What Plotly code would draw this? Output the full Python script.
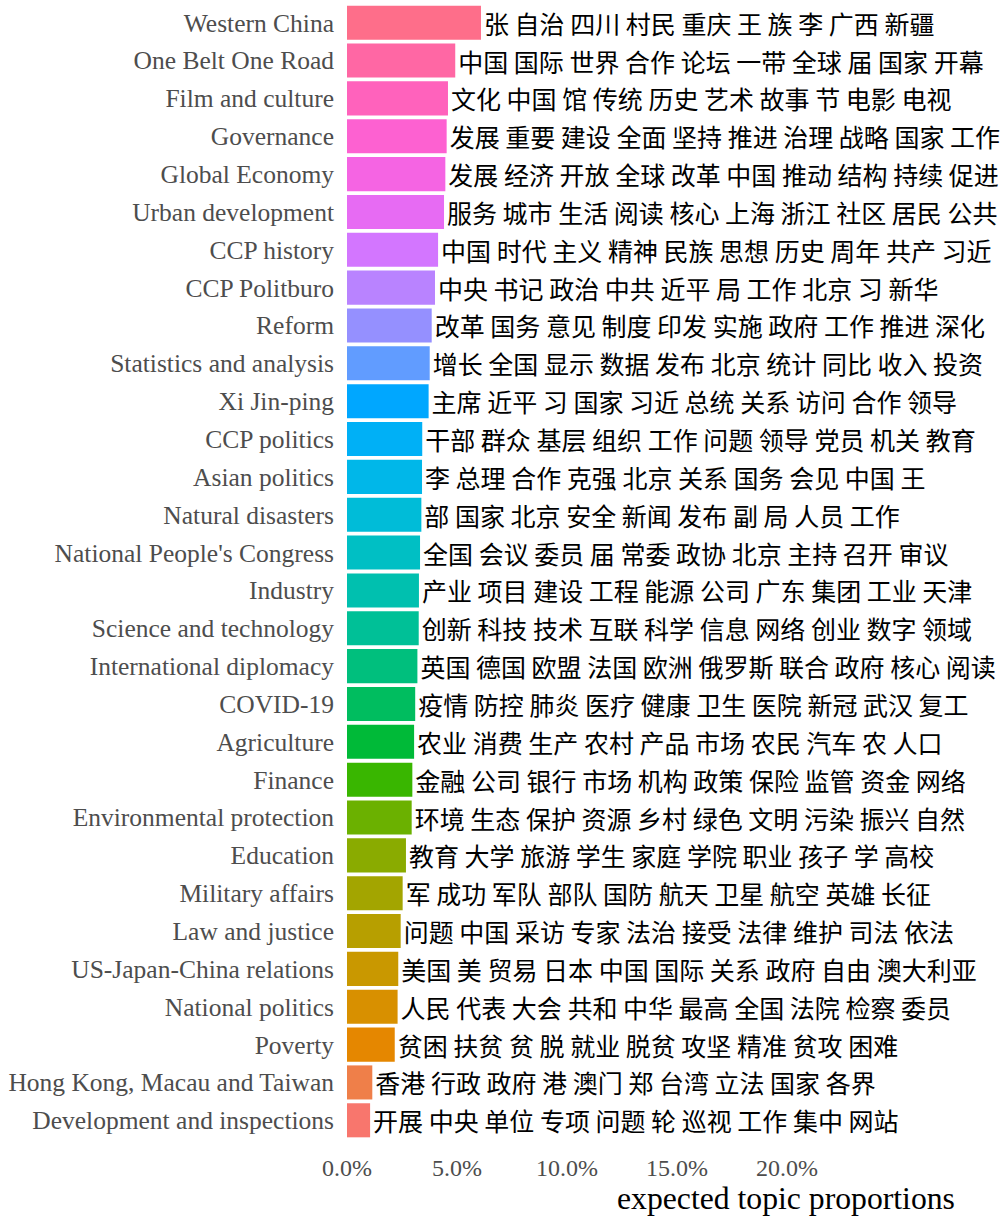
import math
import plotly.graph_objects as go

topics = [
    "Western China", "One Belt One Road", "Film and culture", "Governance",
    "Global Economy", "Urban development", "CCP history", "CCP Politburo",
    "Reform", "Statistics and analysis", "Xi Jin-ping", "CCP politics",
    "Asian politics", "Natural disasters", "National People's Congress",
    "Industry", "Science and technology", "International diplomacy",
    "COVID-19", "Agriculture", "Finance", "Environmental protection",
    "Education", "Military affairs", "Law and justice",
    "US-Japan-China relations", "National politics", "Poverty",
    "Hong Kong, Macau and Taiwan", "Development and inspections",
]

proportions = [
    6.09, 4.92, 4.59, 4.53, 4.47, 4.41, 4.14, 4.00, 3.85, 3.76,
    3.71, 3.42, 3.41, 3.38, 3.32, 3.27, 3.26, 3.20, 3.10, 3.05,
    2.97, 2.94, 2.68, 2.53, 2.44, 2.33, 2.30, 2.17, 1.15, 1.05,
]

top_words = [
    "张 自治 四川 村民 重庆 王 族 李 广西 新疆",
    "中国 国际 世界 合作 论坛 一带 全球 届 国家 开幕",
    "文化 中国 馆 传统 历史 艺术 故事 节 电影 电视",
    "发展 重要 建设 全面 坚持 推进 治理 战略 国家 工作",
    "发展 经济 开放 全球 改革 中国 推动 结构 持续 促进",
    "服务 城市 生活 阅读 核心 上海 浙江 社区 居民 公共",
    "中国 时代 主义 精神 民族 思想 历史 周年 共产 习近",
    "中央 书记 政治 中共 近平 局 工作 北京 习 新华",
    "改革 国务 意见 制度 印发 实施 政府 工作 推进 深化",
    "增长 全国 显示 数据 发布 北京 统计 同比 收入 投资",
    "主席 近平 习 国家 习近 总统 关系 访问 合作 领导",
    "干部 群众 基层 组织 工作 问题 领导 党员 机关 教育",
    "李 总理 合作 克强 北京 关系 国务 会见 中国 王",
    "部 国家 北京 安全 新闻 发布 副 局 人员 工作",
    "全国 会议 委员 届 常委 政协 北京 主持 召开 审议",
    "产业 项目 建设 工程 能源 公司 广东 集团 工业 天津",
    "创新 科技 技术 互联 科学 信息 网络 创业 数字 领域",
    "英国 德国 欧盟 法国 欧洲 俄罗斯 联合 政府 核心 阅读",
    "疫情 防控 肺炎 医疗 健康 卫生 医院 新冠 武汉 复工",
    "农业 消费 生产 农村 产品 市场 农民 汽车 农 人口",
    "金融 公司 银行 市场 机构 政策 保险 监管 资金 网络",
    "环境 生态 保护 资源 乡村 绿色 文明 污染 振兴 自然",
    "教育 大学 旅游 学生 家庭 学院 职业 孩子 学 高校",
    "军 成功 军队 部队 国防 航天 卫星 航空 英雄 长征",
    "问题 中国 采访 专家 法治 接受 法律 维护 司法 依法",
    "美国 美 贸易 日本 中国 国际 关系 政府 自由 澳大利亚",
    "人民 代表 大会 共和 中华 最高 全国 法院 检察 委员",
    "贫困 扶贫 贫 脱 就业 脱贫 攻坚 精准 贫攻 困难",
    "香港 行政 政府 港 澳门 郑 台湾 立法 国家 各界",
    "开展 中央 单位 专项 问题 轮 巡视 工作 集中 网站",
]

x_tick_vals = [0, 5, 10, 15, 20]
x_tick_text = ["0.0%", "5.0%", "10.0%", "15.0%", "20.0%"]


def hcl_to_hex(h, c=100.0, l=65.0):
    # polar LUV -> sRGB (D65), like R's hcl()
    xn, yn, zn = 95.047, 100.0, 108.883
    un = 4 * xn / (xn + 15 * yn + 3 * zn)
    vn = 9 * yn / (xn + 15 * yn + 3 * zn)
    hr = math.radians(h)
    u = c * math.cos(hr)
    v = c * math.sin(hr)
    y = yn * ((l + 16) / 116) ** 3 if l > 8 else yn * l / 903.3
    up = u / (13 * l) + un
    vp = v / (13 * l) + vn
    x = y * 9 * up / (4 * vp)
    z = y * (12 - 3 * up - 20 * vp) / (4 * vp)
    x, y, z = x / 100, y / 100, z / 100
    r = 3.240479 * x - 1.537150 * y - 0.498535 * z
    g = -0.969256 * x + 1.875992 * y + 0.041556 * z
    b = 0.055648 * x - 0.204043 * y + 1.057311 * z

    def gam(t):
        t = 12.92 * t if t <= 0.0031308 else 1.055 * t ** (1 / 2.4) - 0.055
        return max(0, min(255, round(t * 255)))

    return "#{:02X}{:02X}{:02X}".format(gam(r), gam(g), gam(b))


n = len(topics)
# ggplot hue palette, first factor level (smallest) at bottom
colors = [hcl_to_hex(15 + 360 / n * (n - 1 - i)) for i in range(n)]

W, H = 1002, 1217
ml, mr, mt, mb = 347, 5, 0, 74
px_per_pct = 22.0
xmax = (W - ml - mr) / px_per_pct

fig = go.Figure(
    go.Bar(
        y=topics,
        x=proportions,
        orientation="h",
        width=0.9,
        marker=dict(color=colors, line=dict(width=0)),
        text=top_words,
        textposition="outside",
        constraintext="none",
        cliponaxis=False,
        textfont=dict(family="Noto Sans CJK SC", size=25, color="#000000"),
        hoverinfo="skip",
    )
)

fig.update_layout(
    width=W,
    height=H,
    margin=dict(l=ml, r=mr, t=mt, b=mb, autoexpand=False),
    paper_bgcolor="white",
    plot_bgcolor="white",
    showlegend=False,
    bargap=0.1,
    xaxis=dict(
        range=[0, xmax],
        tickvals=x_tick_vals,
        ticktext=x_tick_text,
        showgrid=False,
        zeroline=False,
        showline=False,
        ticks="",
        automargin=False,
        ticklabelstandoff=8,
        tickfont=dict(family="Liberation Serif", size=24, color="#4D4D4D"),
    ),
    yaxis=dict(
        categoryorder="array",
        categoryarray=topics,
        range=[n - 1 + 0.6, -0.6],
        showgrid=False,
        zeroline=False,
        showline=False,
        ticks="",
        automargin=False,
        ticklabelstandoff=12,
        tickfont=dict(family="Liberation Serif", size=25.5, color="#4D4D4D"),
    ),
)

fig.add_annotation(
    text="expected topic proportions",
    xref="paper",
    yref="paper",
    x=(786 - ml) / (W - ml - mr),
    y=-(1198 - (H - mb)) / (H - mt - mb),
    xanchor="center",
    yanchor="middle",
    showarrow=False,
    font=dict(family="Liberation Serif", size=31.7, color="#000000"),
)

fig.write_html(
    "out.html",
    config={"displayModeBar": False, "staticPlot": True},
    post_script="document.body.style.margin='0';document.body.style.padding='0';"
    "document.body.style.overflow='hidden';",
)
